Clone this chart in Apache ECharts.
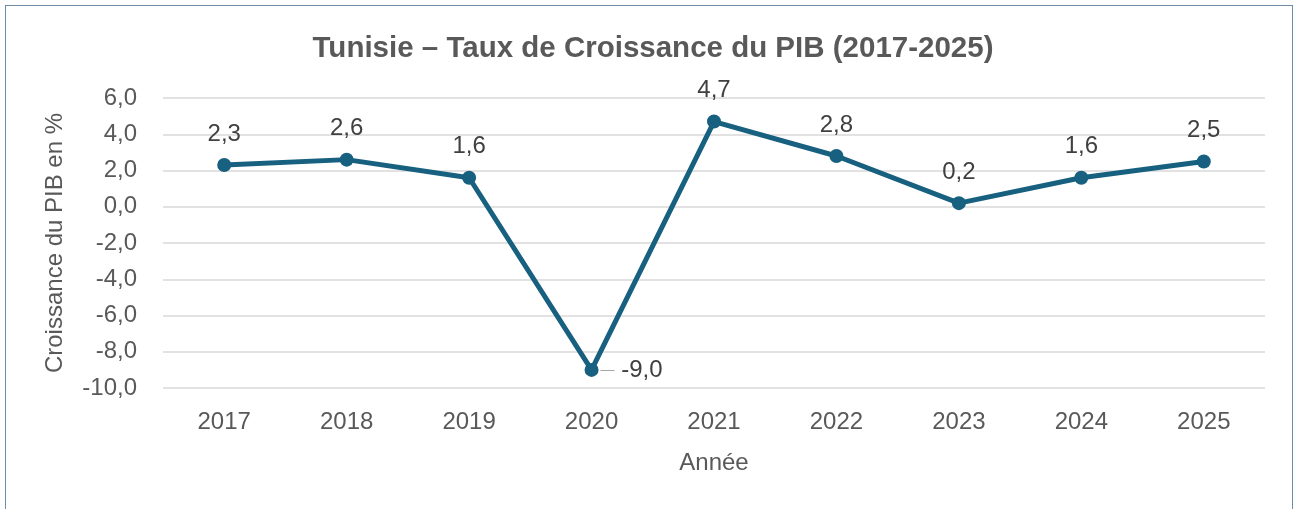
<!DOCTYPE html>
<html><head><meta charset="utf-8">
<script src="https://cdn.jsdelivr.net/npm/echarts@6/dist/echarts.min.js"></script>
<style>html,body{margin:0;padding:0;background:#fff}#c{width:1299px;height:509px}
#frame{position:absolute;left:5px;top:5px;width:1288px;height:520px;border:1.5px solid #6e8ca6;box-sizing:border-box;pointer-events:none}</style>
</head><body><div id="c"></div><div id="frame"></div>
<script>
const years = ['2017','2018','2019','2020','2021','2022','2023','2024','2025'];
const growth = [2.3, 2.6, 1.6, -9.0, 4.7, 2.8, 0.2, 1.6, 2.5];
const titleText = 'Tunisie – Taux de Croissance du PIB (2017-2025)';
const yName = 'Croissance du PIB en %';
const xName = 'Année';

const fmt = v => v.toFixed(1).replace('.', ',');
const FONT = 'Liberation Sans';
const chart = echarts.init(document.getElementById('c'));
chart.setOption({
  animation: false,
  textStyle: {fontFamily: FONT},
  title: {text: titleText, left: 648, textAlign: 'center', top: 29,
    textStyle: {fontFamily: FONT, fontWeight: 'bold', fontSize: 29.5, color: '#595959'}},
  grid: {left: 163, right: 34, top: 98, bottom: 121},
  xAxis: {type: 'category', data: years, boundaryGap: true,
    axisLine: {show: false}, axisTick: {show: false},
    axisLabel: {fontSize: 24, color: '#595959', margin: 22},
    name: xName, nameLocation: 'middle', nameGap: 63,
    nameTextStyle: {fontSize: 24, color: '#595959'}},
  yAxis: {type: 'value', min: -10, max: 6, interval: 2,
    axisLine: {show: false}, axisTick: {show: false},
    axisLabel: {fontSize: 24, color: '#595959', margin: 26, formatter: v => fmt(v)},
    splitLine: {lineStyle: {color: '#d9d9d9', width: 1.5}},
    name: yName, nameLocation: 'middle', nameGap: 96,
    nameTextStyle: {fontSize: 24, color: '#595959'}},
  series: [{
    type: 'line', data: growth.map((v, i) => {
      if (v < -5) return {value: v, label: {position: 'right', distance: 2,
        formatter: '{l|—} ' + fmt(v), rich: {l: {color: '#a6a6a6', fontSize: 14}}}};
      return v;
    }),
    symbol: 'circle', symbolSize: 14,
    lineStyle: {color: '#17607f', width: 5},
    itemStyle: {color: '#17607f'},
    label: {show: true, position: 'top', distance: 12, fontSize: 24, color: '#404040',
      formatter: p => fmt(p.value)}
  }]
});
</script></body></html>
